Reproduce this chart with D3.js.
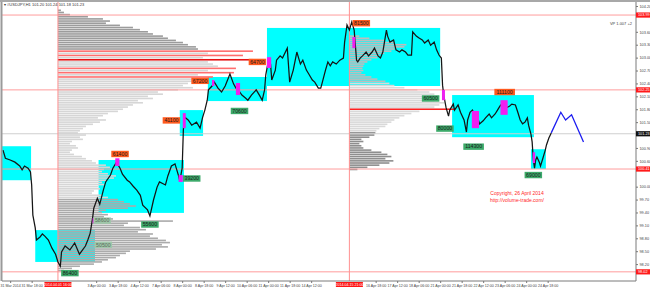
<!DOCTYPE html>
<html><head><meta charset="utf-8">
<script src="https://cdn.jsdelivr.net/npm/d3@7"></script>
<style>
html,body{margin:0;padding:0;background:#fff;}
svg{display:block;font-family:"Liberation Sans",Arial,sans-serif;}
</style></head><body>
<svg id="chart" width="650" height="288"></svg>
<script>
// ---------------- DATA ----------------
const titleText = "\u25BE #USDJPY,H1  101.20 101.24 101.18 101.23";
const vpText = "VP 1.007 +2";
const copyrightLines = ["Copyright, 26 April 2014", "http://volume-trade.com/"];

const timeLabels = ["31 Mar 2014","31 Mar 18:00","1 Apr 12:00","2 Apr 06:00","3 Apr 00:00","3 Apr 18:00",
  "4 Apr 12:00","7 Apr 06:00","8 Apr 00:00","8 Apr 18:00","9 Apr 12:00","10 Apr 06:00","11 Apr 00:00",
  "11 Apr 18:00","14 Apr 12:00","15 Apr 06:00","16 Apr 00:00","16 Apr 18:00","17 Apr 12:00","18 Apr 06:00",
  "21 Apr 00:00","21 Apr 18:00","22 Apr 12:00","23 Apr 06:00","24 Apr 00:00","24 Apr 18:00"];
const priceTicks = [104.20,103.90,103.60,103.30,103.00,102.70,102.40,102.10,101.80,101.50,101.20,100.90,
  100.60,100.30,100.00,99.70,99.40,99.10,98.80,98.50,98.20,97.90];

// price path (bar index, price)
const priceBars = [0,2,6,10,14,16,18,21,23,24,25,27,28,31,33,35,38,41,44,46,48,49,52,56,60,64,69,71,73,75,76,79,81,84,86,90,92,95,98,100,104,106,109,112,115,117,121,123,126,129,131,136,138,141,144,147,148,150,151,152,155,158,162,165,167,169,171,172,175,177,180,183,186,188,190,193,195,197,200,203,205,208,212,215,217,219,220,222,224,225,228,229,232,234,238,239,240,243,246,249,251,254,256,259,261,264,266,267,270,272,274,276,279,282,285,286,288,290,292,294,295,296,297,299,301,304,306,309,311,314,316,318,321,322,324,327,329,332,334,337,339,342,343,346,348,351,353,356,358,361,363,365,367,368,369,371,373,374,377,378,381,383,386,388,389,391,393,395,398,399,402,404,407,409,412,414,416,419,421,424,426,429,431,433,435,437,439,440,442,443,444,445,446,447,449,450,452,454,455,457,459];
const prices = [100.85,100.66,100.62,100.57,100.48,100.39,100.48,100.43,100.34,100.04,99.34,99.04,98.76,98.83,98.90,98.85,98.76,98.57,98.43,98.25,98.15,98.48,98.62,98.53,98.69,98.43,98.62,98.76,98.92,99.27,99.50,99.73,99.59,99.92,100.11,100.27,100.43,100.57,100.43,100.29,100.15,100.11,100.01,99.92,99.80,99.57,99.46,99.32,99.69,99.99,100.11,100.04,100.25,100.48,100.53,100.25,100.13,100.43,101.32,101.62,101.55,101.43,101.50,101.36,101.60,101.78,102.01,102.25,102.34,102.43,102.29,102.20,102.34,102.48,102.62,102.39,102.29,102.25,102.13,102.06,102.01,102.13,102.25,102.11,102.01,102.25,102.60,102.90,102.85,102.48,102.71,102.94,103.04,102.99,103.22,102.83,102.43,102.71,103.13,102.85,102.94,102.71,102.62,102.48,102.43,102.29,102.29,102.39,102.71,102.90,102.81,102.90,102.85,102.94,102.99,103.36,103.76,103.64,103.83,103.64,103.29,102.94,102.90,102.99,103.04,103.13,103.04,103.13,103.22,103.04,102.99,103.13,103.64,103.50,103.36,103.41,103.18,103.13,103.18,103.13,103.06,103.06,103.60,103.50,103.46,103.41,103.34,103.41,103.29,103.36,103.18,103.06,102.99,102.36,102.13,101.83,101.64,101.78,101.92,101.78,101.90,101.73,101.55,101.27,101.55,101.73,101.78,101.67,101.55,101.46,101.53,101.60,101.69,101.60,101.69,101.78,101.87,101.97,101.83,101.87,101.92,101.90,101.73,101.55,101.46,101.50,101.60,101.43,101.22,101.04,100.62,100.43,100.62,100.69,100.57,100.48,100.66,100.85,100.97,101.13,101.25];

const forecastBars = [459,467,471,476,486];
const forecastPrices = [101.25,101.73,101.55,101.67,101.04];

// value-area boxes: [startBar, endBar, highPrice, lowPrice]
const boxes = [[-1,23.5,100.94,100.15],[27,77,98.99,98.25],[80,151.5,100.62,99.39],[148,167.5,101.78,101.18],
  [171.5,221,102.55,101.99],[221,366,103.69,102.34],[376,444.5,102.13,101.15],[442,454.5,100.87,100.41]];

// high-volume candles: [startBar, endBar, high, low]
const hotCandles = [[94,97.5,100.66,100.48],[147,150.5,100.27,100.11],[150.5,153,101.71,101.36],[75,77.5,99.27,99.15],
  [175,177,102.48,102.34],[195,198.5,102.41,102.13],[221,224.5,103.01,102.76],[292.5,295,103.48,103.22],
  [367.5,370,102.25,102.01],[392.5,398.5,101.76,101.36],[416.5,422.5,102.01,101.67],[443.5,445.5,100.80,100.55]];

// volume labels: [text, bar, price, kind]
const volLabels = [["86400",56,97.99,"low"],["55600",123,99.12,"low"],["61400",98,100.76,"high"],
  ["41100",141,101.54,"high"],["39200",158,100.19,"low"],["67200",165,102.46,"high"],["64700",213,102.90,"high"],
  ["70600",198,101.76,"low"],["81500",300,103.80,"high"],["60500",358,102.05,"low"],["80000",370,101.35,"low"],
  ["111100",420,102.20,"high"],["114300",394,100.93,"low"],["69000",444,100.27,"low"],
  ["58600",83,99.21,"faint"],["50500",84,98.65,"faint"]];

// volume profile 1 (anchored 1 Apr), rows every 0.05 from top price
const profile1Bar = 46;
const profile1Top = 104.10;
const profile1Vol = [3,6,12,30,45,52,48,62,75,82,90,95,105,110,118,125,130,138,140,195,
  150,185,145,195,150,155,160,178,150,176,140,155,135,140,130,125,135,120,100,105,
  90,95,80,85,75,70,65,60,50,45,40,48,42,35,28,25,22,20,28,22,
  25,14,12,18,20,14,12,16,24,28,34,38,48,52,46,44,50,58,56,48,
  44,46,40,42,36,34,44,50,60,66,72,78,70,48,44,50,46,55,115,70,
  66,82,88,80,95,92,100,108,112,104,110,98,72,68,62,58,50,44,36,22,14,6];
const profile1Red = [103.15,103.05,102.75,102.65,102.55];
const profile1Poc = 102.95;

// volume profile 2 (anchored 15 Apr)
const profile2Bar = 290;
const profile2Top = 103.50;
const profile2Vol = [10,20,35,45,57,55,45,42,35,30,28,22,18,15,14,13,14,12,16,22,
  28,36,40,45,55,68,80,85,90,78,85,95,90,85,100,70,62,55,50,45,
  42,38,36,30,27,26,25,20,12,14,10,12,14,22,32,38,42,36,44,40,30,18,8];

// level lines
const levelLines = [103.99,102.25,100.41,98.02];
const currentPrice = 101.23;
const redLevel = [290,378,101.80];
const separators = [[46,"2014.04.01 16:00"],[290,"2014.04.15 21:00"]];

// ---------------- CHART ----------------
const x = d3.scaleLinear().domain([0,540]).range([3,648]);
const y = d3.scaleLinear().domain([97.90,104.20]).range([277,6]);
const vol = d3.scaleLinear().domain([0,200]).range([0,200]);
const P = {l:2,t:2,r:636,b:281};
const rowStep = 0.05;

const svg = d3.select("#chart");
svg.append("rect").attr("width",650).attr("height",288).attr("fill","#fff");
svg.append("defs").append("clipPath").attr("id","clip").append("rect")
  .attr("x",P.l).attr("y",P.t).attr("width",P.r-P.l).attr("height",P.b-P.t);
const g = svg.append("g").attr("clip-path","url(#clip)");

// boxes
g.selectAll(".box").data(boxes).join("rect").attr("class","box")
  .attr("x",d=>x(d[0])).attr("y",d=>y(d[2]))
  .attr("width",d=>x(d[1])-x(d[0])).attr("height",d=>y(d[3])-y(d[2]))
  .attr("fill","#00ffff");

// profiles
function drawProfile(bar, top, vols, colorFn){
  const rows = vols.map((v,i)=>({p: +(top - i*rowStep).toFixed(2), v}));
  g.append("g").selectAll("rect").data(rows).join("rect")
    .attr("x",x(bar)).attr("y",d=>y(d.p)-0.8).attr("height",1.6)
    .attr("width",d=>vol(d.v)).attr("fill",d=>colorFn(d.p));
}
drawProfile(profile1Bar, profile1Top, profile1Vol, p=>{
  if (Math.abs(p-profile1Poc)<0.001) return "#e41414";
  if (profile1Red.some(r=>Math.abs(r-p)<0.001)) return "#ff6e6e";
  if (p>103.17) return "#9c9c9c";
  if (p<99.72) return "#ababab";
  return "#d6d6d6";
});
drawProfile(profile2Bar, profile2Top, profile2Vol, p=>{
  if (p<=101.25) return "#8e8e8e";
  if (p>102.40) return "#bdbdbd";
  return "#d9d9d9";
});

// level lines
g.selectAll(".lvl").data(levelLines).join("line")
  .attr("x1",P.l).attr("x2",P.r).attr("y1",d=>y(d)).attr("y2",d=>y(d))
  .attr("stroke","#ff9c9c").attr("stroke-width",1);
g.append("line").attr("x1",P.l).attr("x2",P.r).attr("y1",y(currentPrice)).attr("y2",y(currentPrice))
  .attr("stroke","#cfcfcf").attr("stroke-width",1);
g.append("line").attr("x1",x(redLevel[0])).attr("x2",x(redLevel[1]))
  .attr("y1",y(redLevel[2])).attr("y2",y(redLevel[2])).attr("stroke","#ff2020").attr("stroke-width",1.6);
g.selectAll(".sep").data(separators).join("line")
  .attr("x1",d=>x(d[0])).attr("x2",d=>x(d[0])).attr("y1",P.t).attr("y2",P.b)
  .attr("stroke","#ff9090").attr("stroke-width",1);

// price line
const pts = priceBars.map((b,i)=>[b,prices[i]]);
g.append("path").datum(pts).attr("fill","none").attr("stroke","#151515").attr("stroke-width",1.25)
  .attr("stroke-linejoin","miter")
  .attr("d",d3.line().x(d=>x(d[0])).y(d=>y(d[1])));

// hot candles
g.selectAll(".hot").data(hotCandles).join("rect")
  .attr("x",d=>x(d[0])).attr("y",d=>y(d[2]))
  .attr("width",d=>x(d[1])-x(d[0])).attr("height",d=>y(d[3])-y(d[2]))
  .attr("fill","#f01ef0");

// forecast
const fpts = forecastBars.map((b,i)=>[b,forecastPrices[i]]);
g.append("path").datum(fpts).attr("fill","none").attr("stroke","#1c1cf0").attr("stroke-width",1.3)
  .attr("d",d3.line().x(d=>x(d[0])).y(d=>y(d[1])));

// volume labels
const lblColor = {high:"#ff5a1e", low:"#3daa6a", faint:"#9fc7a9"};
const lg = g.selectAll(".vl").data(volLabels).join("g").attr("transform",d=>`translate(${x(d[1])},${y(d[2])})`);
lg.append("rect").attr("x",d=>-(d[0].length*3.1+2)/2).attr("y",-3.2)
  .attr("width",d=>d[0].length*3.1+2).attr("height",6.4).attr("fill",d=>lblColor[d[3]]);
lg.append("text").attr("text-anchor","middle").attr("dy","1.8").attr("font-size",5.2)
  .attr("fill",d=>d[3]==="faint"?"#5a6a5a":"#1a1a1a").text(d=>d[0]);

// copyright
svg.append("g").selectAll("text").data(copyrightLines).join("text")
  .attr("x",517).attr("y",(d,i)=>195+i*6.5).attr("text-anchor","middle")
  .attr("font-size",5).attr("fill","#ff2a2a").text(d=>d);

// frame
svg.append("line").attr("x1",1.5).attr("x2",1.5).attr("y1",0).attr("y2",P.b).attr("stroke","#9a9a9a").attr("stroke-width",2);
svg.append("line").attr("x1",0).attr("x2",650).attr("y1",1).attr("y2",1).attr("stroke","#a8a8a8").attr("stroke-width",2);
svg.append("line").attr("x1",P.r).attr("x2",P.r).attr("y1",P.t).attr("y2",P.b).attr("stroke","#7a7a7a");
svg.append("line").attr("x1",P.l).attr("x2",P.r).attr("y1",P.b).attr("y2",P.b).attr("stroke","#7a7a7a");

// right axis (ticks hidden under level labels are skipped, as in the terminal)
const labelPrices = levelLines.concat([currentPrice]);
const shownPriceTicks = priceTicks.filter(v=>labelPrices.every(l=>Math.abs(y(v)-y(l))>5.5));
const ya = svg.append("g").attr("transform",`translate(${P.r},0)`)
  .call(d3.axisRight(y).tickValues(shownPriceTicks).tickFormat(d3.format(".2f")).tickSize(2).tickPadding(1.5));
ya.select(".domain").remove();
ya.selectAll("line").attr("stroke","#777");
ya.selectAll("text").attr("font-size",3.8).attr("fill","#444").attr("font-family","Liberation Sans, Arial, sans-serif");

// bottom axis (ticks covered by separator date labels are skipped)
const tickIdx = timeLabels.map((t,i)=>i).filter(i=>separators.every(s=>Math.abs(x(6+18*i)-x(s[0]))>23));
const xa = svg.append("g").attr("transform",`translate(0,${P.b})`)
  .call(d3.axisBottom(x).tickValues(tickIdx.map(i=>6+18*i)).tickFormat((d,k)=>timeLabels[tickIdx[k]]).tickSize(2).tickPadding(1));
xa.select(".domain").remove();
xa.selectAll("line").attr("stroke","#777");
xa.selectAll("text").attr("font-size",3.6).attr("fill","#444").attr("font-family","Liberation Sans, Arial, sans-serif");

// separator date labels
const sl = svg.append("g").selectAll("g").data(separators).join("g")
  .attr("transform",d=>`translate(${x(d[0])},${P.b+1})`);
sl.append("rect").attr("x",-13.5).attr("y",0).attr("width",27).attr("height",5).attr("fill","#ff1414");
sl.append("text").attr("text-anchor","middle").attr("y",3.7).attr("font-size",3.6).attr("fill","#fff").text(d=>d[1]);

// price axis labels for levels
const fmt = d3.format(".2f");
const al = svg.append("g").selectAll("g").data(levelLines.map(v=>[v,"#ff1a1a"]).concat([[currentPrice,"#111"]])).join("g")
  .attr("transform",d=>`translate(${P.r},${y(d[0])})`);
al.append("rect").attr("x",0).attr("y",-2.6).attr("width",14).attr("height",5.2).attr("fill",d=>d[1]);
al.append("text").attr("x",2).attr("y",1.4).attr("font-size",3.8).attr("fill","#fff").text(d=>fmt(d[0]));

// header texts
svg.append("text").attr("x",4).attr("y",6).attr("font-size",4).attr("fill","#333").text(titleText);
svg.append("text").attr("x",632).attr("y",25).attr("text-anchor","end").attr("font-size",4).attr("fill","#444").text(vpText);
</script>
</body></html>
